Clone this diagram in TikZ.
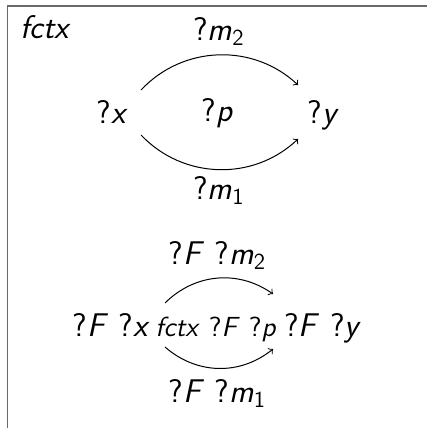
\documentclass[tikz,border=0pt]{standalone}
\begin{document}
\begin{tikzpicture}[x=0.5pt,y=-0.5pt,
  lbl/.style={inner sep=0pt, anchor=base, font=\sffamily\fontsize{16.4}{19}\selectfont},
  small/.style={inner sep=0pt, anchor=base, font=\sffamily\fontsize{13.8}{17}\selectfont},
  arr/.style={->, line width=0.5pt},
  frame/.style={draw={rgb,255:red,105;green,105;blue,105}, line width=0.8pt}]
\useasboundingbox (0,0) rectangle (427,428);
\draw[frame] (7.5,428) -- (7.5,5.7) -- (427,5.7);
% top diagram
\node[lbl, anchor=base west] (ctx) at (20,39) {\itshape fctx};
\node[lbl] (m2) at (219,40) {?\textit{m}\textsubscript{2}};
\node[lbl] (x) at (112.5,123) {?\textit{x}};
\node[lbl] (p) at (217.5,121) {?\textit{p}};
\node[lbl] (y) at (323.5,123) {?\textit{y}};
\node[lbl] (m1) at (219,199) {?\textit{m}\textsubscript{1}};
\draw[arr] ([shift={(28.5,-33)}]x.base) to[bend left=45] ([shift={(-25.5,-38)}]y.base);
\draw[arr] ([shift={(28.5,12)}]x.base) to[bend right=45] ([shift={(-25.5,16)}]y.base);
% bottom diagram
\node[lbl] (Fm2) at (217.5,264.5) {?\textit{F} ?\textit{m}\textsubscript{2}};
\node[lbl] (Fx) at (111.5,336) {?\textit{F} ?\textit{x}};
\node[small] (Fp) at (216,336) {\textit{fctx} ?\textit{F} ?\textit{p}};
\node[lbl] (Fy) at (323,336) {?\textit{F} ?\textit{y}};
\node[lbl] (Fm1) at (217.5,402) {?\textit{F} ?\textit{m}\textsubscript{1}};
\draw[arr] ([shift={(53.5,-33)}]Fx.base) to[bend left=40] ([shift={(-50,-42)}]Fy.base);
\draw[arr] ([shift={(53.5,11)}]Fx.base) to[bend right=40] ([shift={(-50,13)}]Fy.base);
\end{tikzpicture}
\end{document}
